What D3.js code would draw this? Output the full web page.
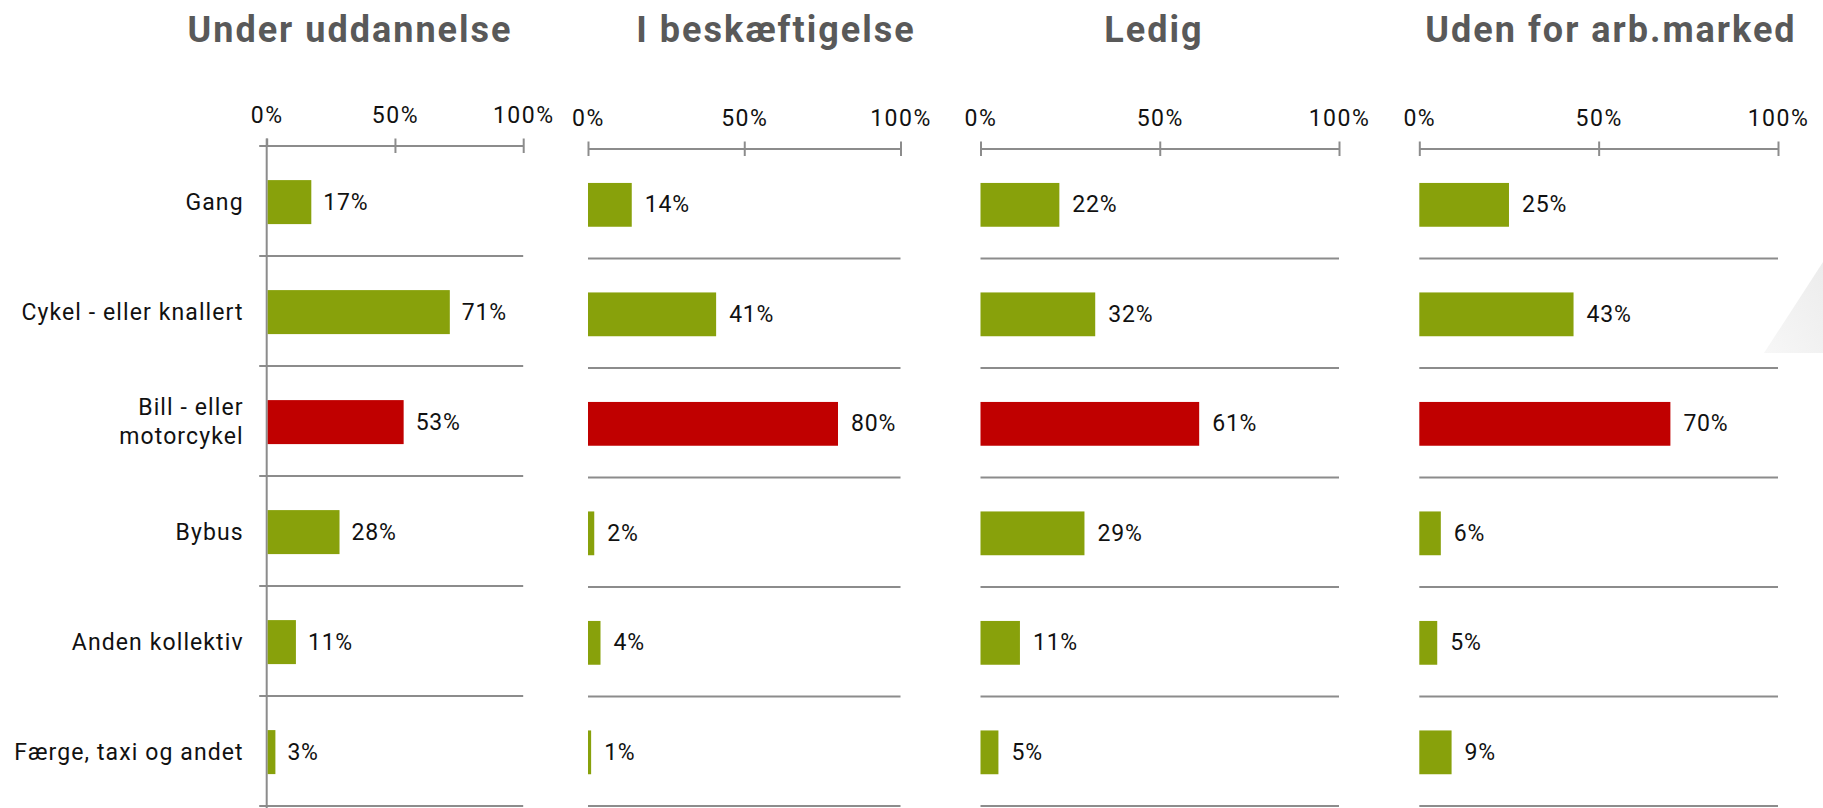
<!DOCTYPE html>
<html>
<head>
<meta charset="utf-8">
<script src="https://cdn.jsdelivr.net/npm/d3@7"></script>
<style>
  html, body { margin: 0; padding: 0; background: #fff; }
  svg { display: block; font-family: Roboto, 'Open Sans', sans-serif; }
</style>
</head>
<body>
<svg id="chart" width="1823" height="808"></svg>
<script>
const panelTitles = ['Under uddannelse', 'I beskæftigelse', 'Ledig', 'Uden for arb.marked']
const categories = ['Gang', 'Cykel - eller knallert', 'Bill - eller motorcykel', 'Bybus', 'Anden kollektiv', 'Færge, taxi og andet']
const categoryLines = [['Gang'], ['Cykel - eller knallert'], ['Bill - eller', 'motorcykel'], ['Bybus'], ['Anden kollektiv'], ['Færge, taxi og andet']]
const underUddannelse = [17, 71, 53, 28, 11, 3]
const iBeskaeftigelse = [14, 41, 80, 2, 4, 1]
const ledig = [22, 32, 61, 29, 11, 5]
const udenForArbMarked = [25, 43, 70, 6, 5, 9]
const tickValues = [0, 50, 100]
const highlighted = 'Bill - eller motorcykel'

const seriesValues = [underUddannelse, iBeskaeftigelse, ledig, udenForArbMarked]

const green = '#88a10b'
const red = '#c00000'
const gridGrey = '#8c8c8c'
const titleGrey = '#595959'

// panel frames (px) - the panels are not evenly sized in the original
const panels = [
  { x0: 266.7, x1: 523.2, top: 146, titleX: 350, first: true },
  { x0: 588, x1: 900.5, top: 149, titleX: 776 },
  { x0: 980.5, x1: 1339, top: 149, titleX: 1154 },
  { x0: 1419.3, x1: 1778, top: 149, titleX: 1611 }
]
const bottom = 806

const svg = d3.select('#chart')

// faint background shape on the right edge
const wm = svg.append('defs').append('linearGradient')
  .attr('id', 'wmGradient')
  .attr('x1', '0').attr('x2', '1').attr('y1', '1').attr('y2', '0')
wm.append('stop').attr('offset', '0%').attr('stop-color', '#f7f7f7')
wm.append('stop').attr('offset', '100%').attr('stop-color', '#ececec')
svg.append('path')
  .attr('d', 'M1764,353 L1823,262 L1823,353 Z')
  .attr('fill', 'url(#wmGradient)')

panels.forEach((p, pi) => {
  const g = svg.append('g')
  const values = seriesValues[pi]

  const x = d3.scaleLinear().domain([0, 100]).range([p.x0, p.x1])
  const y = d3.scaleBand().domain(categories).range([p.top, bottom])
  const step = y.step()
  const barTop = step * 0.31
  const barH = step * 0.40
  const ext = p.first ? 7.5 : 0

  // Title
  g.append('text')
    .attr('x', p.titleX)
    .attr('y', 42)
    .attr('text-anchor', 'middle')
    .attr('font-size', 36)
    .attr('font-weight', 700)
    .attr('letter-spacing', 2)
    .attr('fill', titleGrey)
    .text(panelTitles[pi])

  // Top axis
  const axis = g.append('g')
    .attr('transform', `translate(0,${p.top})`)
    .call(d3.axisTop(x)
      .tickValues(tickValues)
      .tickFormat(d => d + '%')
      .tickSize(7.5)
      .tickPadding(16))
  axis.select('.domain').remove()
  axis.selectAll('.tick line')
    .attr('y2', -7.5)
    .attr('y1', (d, i) => (p.first && d === 0) ? 0 : 7)
    .attr('stroke', gridGrey)
    .attr('stroke-width', 2)
  axis.selectAll('.tick text')
    .attr('font-size', 23)
    .attr('letter-spacing', 1.5)
    .attr('font-family', 'Roboto, sans-serif')
    .attr('fill', '#111')

  // axis line + row separators
  const lines = [p.top].concat(categories.map(c => y(c) + step))
  g.selectAll('.sep')
    .data(lines)
    .join('line')
    .attr('x1', x(0) - ext)
    .attr('x2', x(100))
    .attr('y1', d => d)
    .attr('y2', d => d)
    .attr('stroke', gridGrey)
    .attr('stroke-width', 2)

  // Vertical axis only on first panel
  if (p.first) {
    g.append('line')
      .attr('x1', x(0)).attr('x2', x(0))
      .attr('y1', p.top - 7.5).attr('y2', 808)
      .attr('stroke', gridGrey)
      .attr('stroke-width', 2)

    // category labels
    categories.forEach((c, i) => {
      const lns = categoryLines[i]
      const cy = y(c) + barTop + barH / 2
      const t = g.append('text')
        .attr('text-anchor', 'end')
        .attr('font-size', 23)
        .attr('letter-spacing', 1.1)
        .attr('fill', '#111')
      lns.forEach((l, li) => {
        t.append('tspan')
          .attr('x', x(0) - 23)
          .attr('y', cy + 7.5 + (li - (lns.length - 1) / 2) * 28.5)
          .text(l)
      })
    })
  }

  // Bars
  g.selectAll('.bar')
    .data(values)
    .join('rect')
    .attr('x', x(0) + (p.first ? 1 : 0))
    .attr('y', (d, i) => y(categories[i]) + barTop)
    .attr('width', d => x(d) - x(0))
    .attr('height', barH)
    .attr('fill', (d, i) => categories[i] === highlighted ? red : green)

  // Value labels
  g.selectAll('.val')
    .data(values)
    .join('text')
    .attr('x', d => x(d) + 13)
    .attr('y', (d, i) => y(categories[i]) + barTop + barH / 2 + 7.5)
    .attr('font-size', 23)
    .attr('letter-spacing', 0.8)
    .attr('fill', '#111')
    .text(d => d + '%')
})
</script>
</body>
</html>
